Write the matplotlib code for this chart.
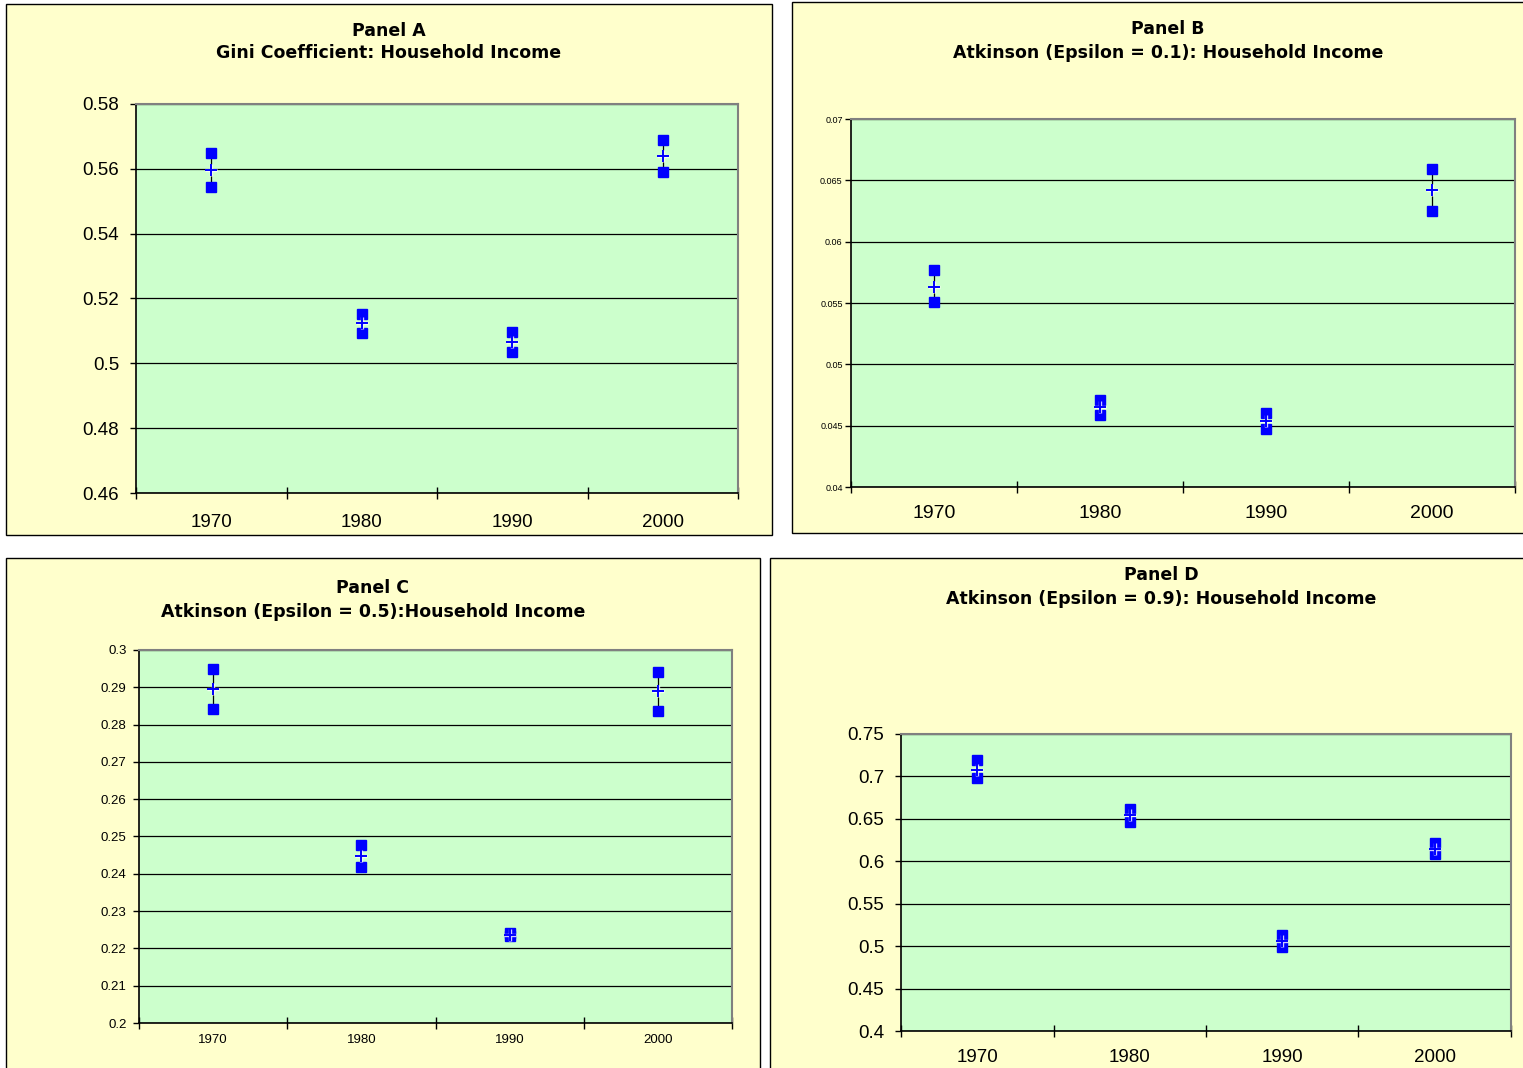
import matplotlib
matplotlib.use("Agg")
import matplotlib.pyplot as plt
from matplotlib.patches import Rectangle
from matplotlib.ticker import FixedLocator, FuncFormatter

plt.rcParams['font.family'] = ['Liberation Sans', 'DejaVu Sans']

W, H = 1523, 1068

years = ['1970', '1980', '1990', '2000']

# Panel A: Gini coefficient
gini_hi = [0.5649, 0.5152, 0.5097, 0.5689]
gini_mid = [0.5596, 0.5123, 0.5066, 0.5640]
gini_lo = [0.5544, 0.5094, 0.5035, 0.5590]

# Panel B: Atkinson eps = 0.1
atk1_hi = [0.05769, 0.04710, 0.04603, 0.06592]
atk1_mid = [0.05630, 0.04650, 0.04540, 0.06420]
atk1_lo = [0.05508, 0.04587, 0.04473, 0.06250]

# Panel C: Atkinson eps = 0.5
atk5_hi = [0.2949, 0.2477, 0.2241, 0.2941]
atk5_mid = [0.2895, 0.2447, 0.2237, 0.2889]
atk5_lo = [0.2842, 0.2418, 0.2233, 0.2836]

# Panel D: Atkinson eps = 0.9
atk9_hi = [0.7194, 0.6616, 0.5132, 0.6216]
atk9_mid = [0.7080, 0.6540, 0.5060, 0.6150]
atk9_lo = [0.6980, 0.6463, 0.4990, 0.6086]

YELLOW = '#FFFFCC'
GREEN = '#CCFFCC'
BLUE = '#0000FF'


def fx(px):
    return px / W


def fy(py):
    return 1 - py / H


def add_frame(fig, x0, y0, x1, y1):
    fig.patches.append(Rectangle((fx(x0), fy(y1)), fx(x1 - x0), (y1 - y0) / H,
                                 transform=fig.transFigure, facecolor=YELLOW,
                                 edgecolor='black', linewidth=1.0, zorder=-5))


def make_panel(fig, frame, box, title_xy, title, hi, mid, lo, ylim, ystep,
               ysize, xsize, ypad, xpad):
    add_frame(fig, *frame)
    tx, ty1, ty2 = title_xy
    for t, ty in zip(title, (ty1, ty2)):
        fig.text(fx(tx), fy(ty), t, ha='center', va='center',
                 fontsize=12.5, fontweight='bold', family='DejaVu Sans')

    x0, y0, x1, y1 = box
    ax = fig.add_axes([fx(x0), fy(y1), fx(x1 - x0), (y1 - y0) / H])
    ax.set_facecolor(GREEN)

    xs = [1, 2, 3, 4]
    ax.vlines(xs, lo, hi, color='black', linewidth=0.9, zorder=3)
    ax.plot(xs, hi, 's', color=BLUE, markersize=7, zorder=4, linestyle='none')
    ax.plot(xs, lo, 's', color=BLUE, markersize=7, zorder=4, linestyle='none')
    ax.plot(xs, mid, '+', color='white', markersize=9, markeredgewidth=2.4,
            zorder=5, linestyle='none', alpha=0.8)
    ax.plot(xs, mid, '+', color=BLUE, markersize=8, markeredgewidth=1.4,
            zorder=6, linestyle='none')

    ax.set_xlim(0.5, 4.5)
    ax.set_ylim(*ylim)
    n = int(round((ylim[1] - ylim[0]) / ystep))
    yt = [ylim[0] + i * ystep for i in range(n + 1)]
    ax.yaxis.set_major_locator(FixedLocator(yt))
    ax.yaxis.set_major_formatter(FuncFormatter(lambda v, p: f'{round(v, 4):g}'))
    ax.grid(axis='y', color='black', linewidth=0.9)
    ax.set_axisbelow(True)

    ax.set_xticks(xs)
    ax.set_xticklabels(years)
    ax.xaxis.set_minor_locator(FixedLocator([0.5, 1.5, 2.5, 3.5, 4.5]))
    ax.tick_params(axis='x', which='major', length=0, labelsize=xsize, pad=xpad)
    ax.tick_params(axis='x', which='minor', direction='inout', length=8,
                   width=1, color='black')
    ax.tick_params(axis='y', direction='out', length=4, width=1,
                   labelsize=ysize, pad=ypad)

    for s in ['top', 'right']:
        ax.spines[s].set_color('#808080')
        ax.spines[s].set_linewidth(1.5)
    for s in ['left', 'bottom']:
        ax.spines[s].set_color('black')
        ax.spines[s].set_linewidth(1.2)
    return ax


fig = plt.figure(figsize=(W / 100, H / 100), dpi=100)
fig.patch.set_facecolor('white')

make_panel(fig, (6, 4, 772, 535), (136, 104, 738, 493), (389, 31, 53),
           ('Panel A', 'Gini Coefficient: Household Income'),
           gini_hi, gini_mid, gini_lo, (0.46, 0.58), 0.02, 13.5, 13.5, 8, 15)

make_panel(fig, (792, 2, 1535, 533), (851, 119, 1515, 487), (1168, 29, 53),
           ('Panel B', 'Atkinson (Epsilon = 0.1): Household Income'),
           atk1_hi, atk1_mid, atk1_lo, (0.04, 0.07), 0.005, 6.5, 14, 2, 13)

make_panel(fig, (6, 558, 760, 1080), (139, 650, 732, 1023), (373, 588, 612),
           ('Panel C', 'Atkinson (Epsilon = 0.5):Household Income'),
           atk5_hi, atk5_mid, atk5_lo, (0.2, 0.3), 0.01, 9.5, 9.5, 5, 8)

make_panel(fig, (770, 558, 1535, 1080), (901, 734, 1511, 1031), (1161, 575, 599),
           ('Panel D', 'Atkinson (Epsilon = 0.9): Household Income'),
           atk9_hi, atk9_mid, atk9_lo, (0.4, 0.75), 0.05, 13.5, 13.5, 8, 13)

fig.savefig('out.png', dpi=100, facecolor=fig.get_facecolor())
